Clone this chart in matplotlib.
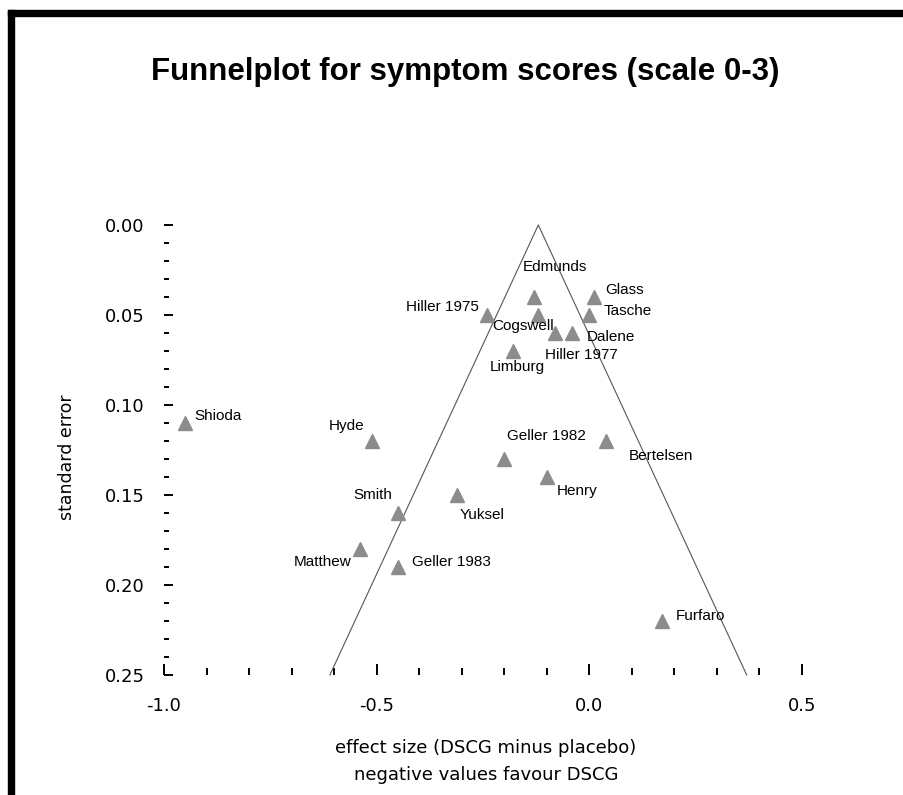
import matplotlib
matplotlib.use("Agg")
import matplotlib.pyplot as plt
from matplotlib.patches import Rectangle
from matplotlib.ticker import MultipleLocator, FormatStrFormatter

plt.rcParams['axes.unicode_minus'] = False

# studies: effect size (DSCG minus placebo) and standard error
studies = ["Shioda", "Hyde", "Hiller 1975", "Edmunds", "Cogswell", "Hiller 1977",
           "Dalene", "Glass", "Tasche", "Limburg", "Geller 1982", "Bertelsen",
           "Henry", "Yuksel", "Smith", "Matthew", "Geller 1983", "Furfaro"]
effect = [-0.95, -0.51, -0.24, -0.13, -0.12, -0.08,
          -0.04, 0.01, 0.00, -0.18, -0.20, 0.04,
          -0.10, -0.31, -0.45, -0.54, -0.45, 0.17]
std_err = [0.11, 0.12, 0.05, 0.04, 0.05, 0.06,
           0.06, 0.04, 0.05, 0.07, 0.13, 0.12,
           0.14, 0.15, 0.16, 0.18, 0.19, 0.22]

pooled = -0.12
se_max = 0.25

# label placement (pixel offsets from the marker, horizontal alignment)
label_pos = {
    "Shioda": (9, -7, "left"),
    "Hyde": (-8, -15, "right"),
    "Hiller 1975": (-8, -8, "right"),
    "Edmunds": (-11, -30, "left"),
    "Cogswell": (-46, 11, "left"),
    "Hiller 1977": (-10, 22, "left"),
    "Dalene": (14, 4, "left"),
    "Glass": (12, -7, "left"),
    "Tasche": (14, -4, "left"),
    "Limburg": (-23, 16, "left"),
    "Geller 1982": (3, -23, "left"),
    "Bertelsen": (22, 15, "left"),
    "Henry": (10, 14, "left"),
    "Yuksel": (2, 20, "left"),
    "Smith": (-6, -18, "right"),
    "Matthew": (-8, 13, "right"),
    "Geller 1983": (14, -5, "left"),
    "Furfaro": (14, -5, "left"),
}

W, H = 904, 795
fig = plt.figure(figsize=(W / 100, H / 100), dpi=100)

# black frame on top and left
fig.patches.append(Rectangle((8 / W, 1 - 16 / H), 1, 6 / H, transform=fig.transFigure,
                             color="black", zorder=10))
fig.patches.append(Rectangle((8 / W, 0), 6 / W, 1 - 10 / H, transform=fig.transFigure,
                             color="black", zorder=10))

ax = fig.add_axes([164 / W, 1 - 675 / H, 638 / W, 450 / H])
ax.set_xlim(-1.0, 0.5)
ax.set_ylim(se_max, 0.0)
for s in ax.spines.values():
    s.set_visible(False)

# funnel (pooled estimate +/- 1.96 SE)
ax.plot([pooled - 1.96 * se_max, pooled, pooled + 1.96 * se_max], [se_max, 0.0, se_max],
        color="#555555", lw=0.8, clip_on=False)

ax.plot(effect, std_err, linestyle="none", marker="^", markersize=10.5,
        color="#8c8c8c", clip_on=False, zorder=3)

for name, x, y in zip(studies, effect, std_err):
    dx, dy, ha = label_pos[name]
    ax.annotate(name, (x, y), xytext=(dx * 0.72, -dy * 0.72), textcoords="offset points",
                ha=ha, va="center", fontsize=11, family="Liberation Sans")

ax.xaxis.set_major_locator(MultipleLocator(0.5))
ax.xaxis.set_minor_locator(MultipleLocator(0.1))
ax.yaxis.set_major_locator(MultipleLocator(0.05))
ax.yaxis.set_minor_locator(MultipleLocator(0.01))
ax.xaxis.set_major_formatter(FormatStrFormatter("%.1f"))
ax.yaxis.set_major_formatter(FormatStrFormatter("%.2f"))

ax.tick_params(axis="y", which="major", direction="in", length=6.5, width=1.4, pad=14,
               labelsize=13, colors="black")
ax.tick_params(axis="y", which="minor", direction="in", length=3.6, width=1.4)
ax.tick_params(axis="x", which="major", direction="in", length=8, width=1.4, pad=16,
               labelsize=13)
ax.tick_params(axis="x", which="minor", direction="in", length=5, width=1.4)

fig.text(465 / W, 1 - 72 / H, "Funnelplot for symptom scores (scale 0-3)",
         ha="center", va="center", fontsize=22.5, fontweight="bold", family="Liberation Sans")
fig.text(67 / W, 1 - 457 / H, "standard error", rotation=90, ha="center", va="center",
         fontsize=12.5)
fig.text(486 / W, 1 - 748 / H, "effect size (DSCG minus placebo)", ha="center",
         va="center", fontsize=13)
fig.text(486 / W, 1 - 775 / H, "negative values favour DSCG", ha="center",
         va="center", fontsize=13)

fig.savefig("out.png", dpi=100)
